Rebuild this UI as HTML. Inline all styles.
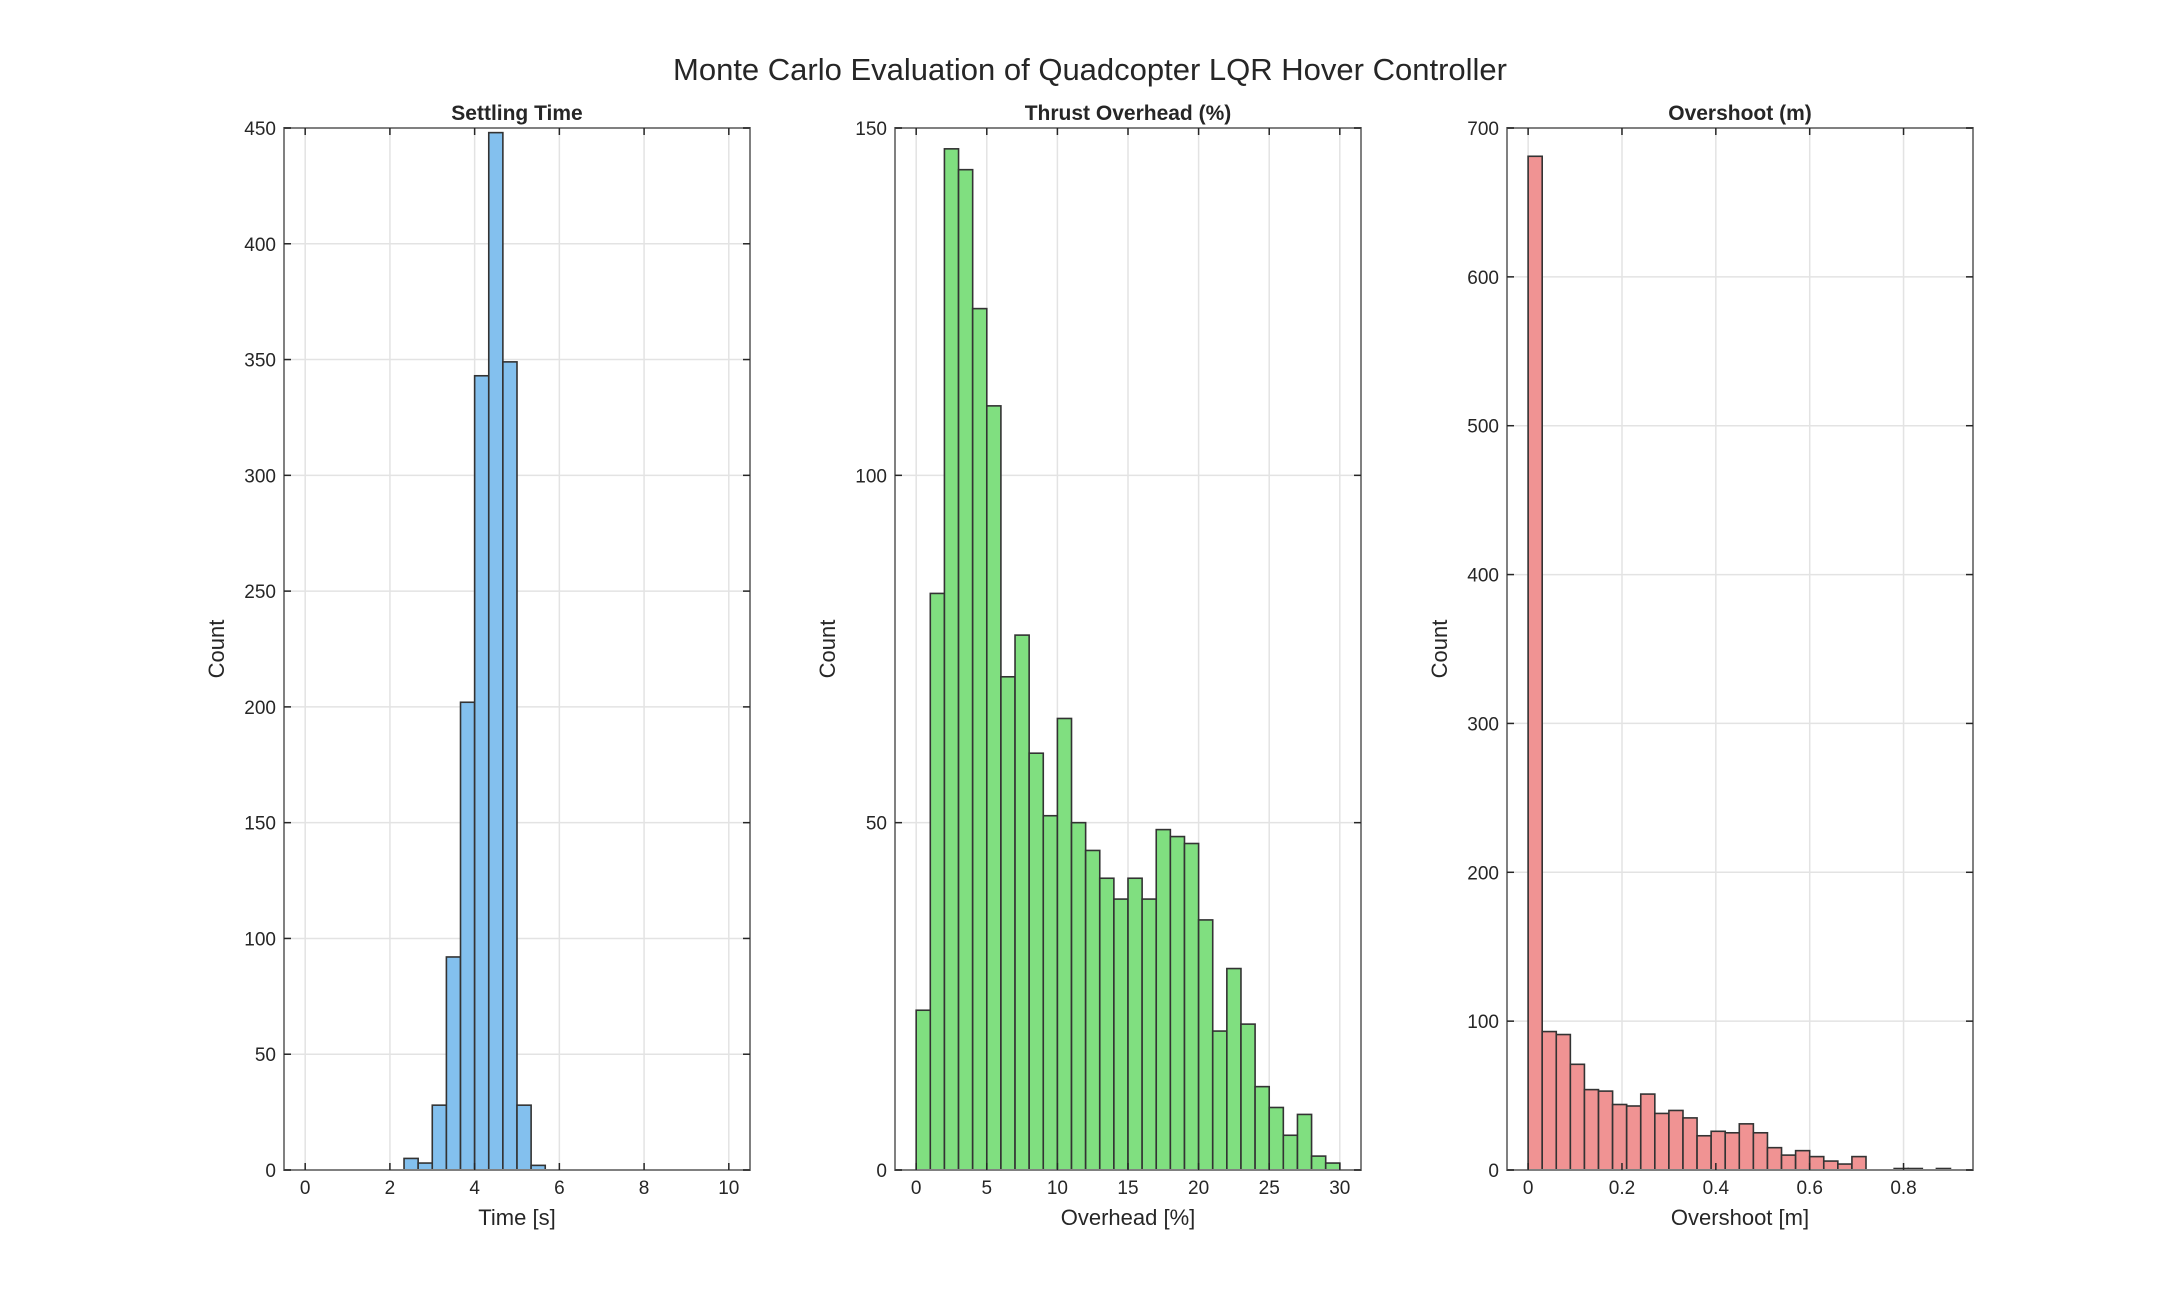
<!DOCTYPE html>
<html><head><meta charset="utf-8"><style>
html,body{margin:0;padding:0;background:#fff;}
svg text{font-family:"Liberation Sans",Arial,sans-serif;fill:#262626;}
</style></head><body>
<svg id="fig" width="2179" height="1311" viewBox="0 0 2179 1311" xmlns="http://www.w3.org/2000/svg">
<rect width="2179" height="1311" fill="#fff"/>
<text x="1090" y="80" font-size="31" text-anchor="middle">Monte Carlo Evaluation of Quadcopter LQR Hover Controller</text>
</svg>
<script>
// Settling time histogram
const stEdgeStart = 2.3333;
const stBinWidth = 1/3;
const stCounts = [5,3,28,92,202,343,448,349,28,2];
const stXTicks = [0,2,4,6,8,10];
const stYTicks = [0,50,100,150,200,250,300,350,400,450];
// Thrust overhead histogram
const thEdgeStart = 0;
const thBinWidth = 1;
const thCounts = [23,83,147,144,124,110,71,77,60,51,65,50,46,42,39,42,39,49,48,47,36,20,29,21,12,9,5,8,2,1];
const thXTicks = [0,5,10,15,20,25,30];
const thYTicks = [0,50,100,150];
// Overshoot histogram
const ovEdgeStart = 0;
const ovBinWidth = 0.03;
const ovCounts = [681,93,91,71,54,53,44,43,51,38,40,35,23,26,25,31,25,15,10,13,9,6,4,9,0,0,1,1,0,1];
const ovXTicks = [0,0.2,0.4,0.6,0.8];
const ovYTicks = [0,100,200,300,400,500,600,700];

const NS='http://www.w3.org/2000/svg';
const svg=document.getElementById('fig');
function mk(tag,attrs,parent){const e=document.createElementNS(NS,tag);for(const k in attrs)e.setAttribute(k,attrs[k]);(parent||svg).appendChild(e);return e;}

function drawPanel(key,left,xmin,xmax,ymax,edgeStart,bw,counts,xticks,yticks,fill,title,xlabel){
  const top=128, bottom=1170, width=466, right=left+width;
  const g=mk('g',{});
  
  
  const sx=v=>left+(v-xmin)/(xmax-xmin)*width;
  const sy=v=>bottom-v/ymax*(bottom-top);
  xticks.forEach(t=>{const l=mk('line',{x1:sx(t),x2:sx(t),y1:top,y2:bottom,stroke:'#e3e3e3','stroke-width':1.5},g);
    });
  yticks.forEach(t=>{const l=mk('line',{x1:left,x2:right,y1:sy(t),y2:sy(t),stroke:'#e3e3e3','stroke-width':1.5},g);
    });
  counts.forEach((c,i)=>{ if(c<=0) return;
    const x0=sx(edgeStart+i*bw), x1=sx(edgeStart+(i+1)*bw);
    const r=mk('rect',{x:x0,y:sy(c),width:x1-x0,height:bottom-sy(c),fill:fill,stroke:'#333','stroke-width':1.6},g);
    
    
  });
  const b=mk('rect',{x:left,y:top,width:width,height:bottom-top,fill:'none',stroke:'#808080','stroke-width':2},g);
  
  
  xticks.forEach(t=>{
    mk('line',{x1:sx(t),x2:sx(t),y1:bottom,y2:bottom-7,stroke:'#262626','stroke-width':1.5},g);
    mk('line',{x1:sx(t),x2:sx(t),y1:top,y2:top+7,stroke:'#262626','stroke-width':1.5},g);
    const tx=mk('text',{x:sx(t),y:bottom+24,'font-size':19,'text-anchor':'middle'},g);
    tx.textContent=String(t);
    
    
  });
  yticks.forEach(t=>{
    mk('line',{x1:left,x2:left+7,y1:sy(t),y2:sy(t),stroke:'#262626','stroke-width':1.5},g);
    mk('line',{x1:right,x2:right-7,y1:sy(t),y2:sy(t),stroke:'#262626','stroke-width':1.5},g);
    const tx=mk('text',{x:left-8,y:sy(t)+7,'font-size':19,'text-anchor':'end'},g);
    tx.textContent=String(t);
    
    
  });
  const tt=mk('text',{x:left+width/2,y:120,'font-size':21,'font-weight':'bold','text-anchor':'middle'},g);
  tt.textContent=title;
  
  
  const xl=mk('text',{x:left+width/2,y:1225,'font-size':22,'text-anchor':'middle'},g);
  xl.textContent=xlabel;
  
  
  const yx=left-60, yy=(top+bottom)/2;
  const yl=mk('text',{x:yx,y:yy,'font-size':22,'text-anchor':'middle',transform:`rotate(-90 ${yx} ${yy})`},g);
  yl.textContent='Count';
  
  
}
drawPanel('settling',284,-0.5,10.5,450,stEdgeStart,stBinWidth,stCounts,stXTicks,stYTicks,'#83c0ee','Settling Time','Time [s]');
drawPanel('thrust',895,-1.5,31.5,150,thEdgeStart,thBinWidth,thCounts,thXTicks,thYTicks,'#80df80','Thrust Overhead (%)','Overhead [%]');
drawPanel('overshoot',1507,-0.045,0.948,700,ovEdgeStart,ovBinWidth,ovCounts,ovXTicks,ovYTicks,'#f09393','Overshoot (m)','Overshoot [m]');
</script>
</body></html>
